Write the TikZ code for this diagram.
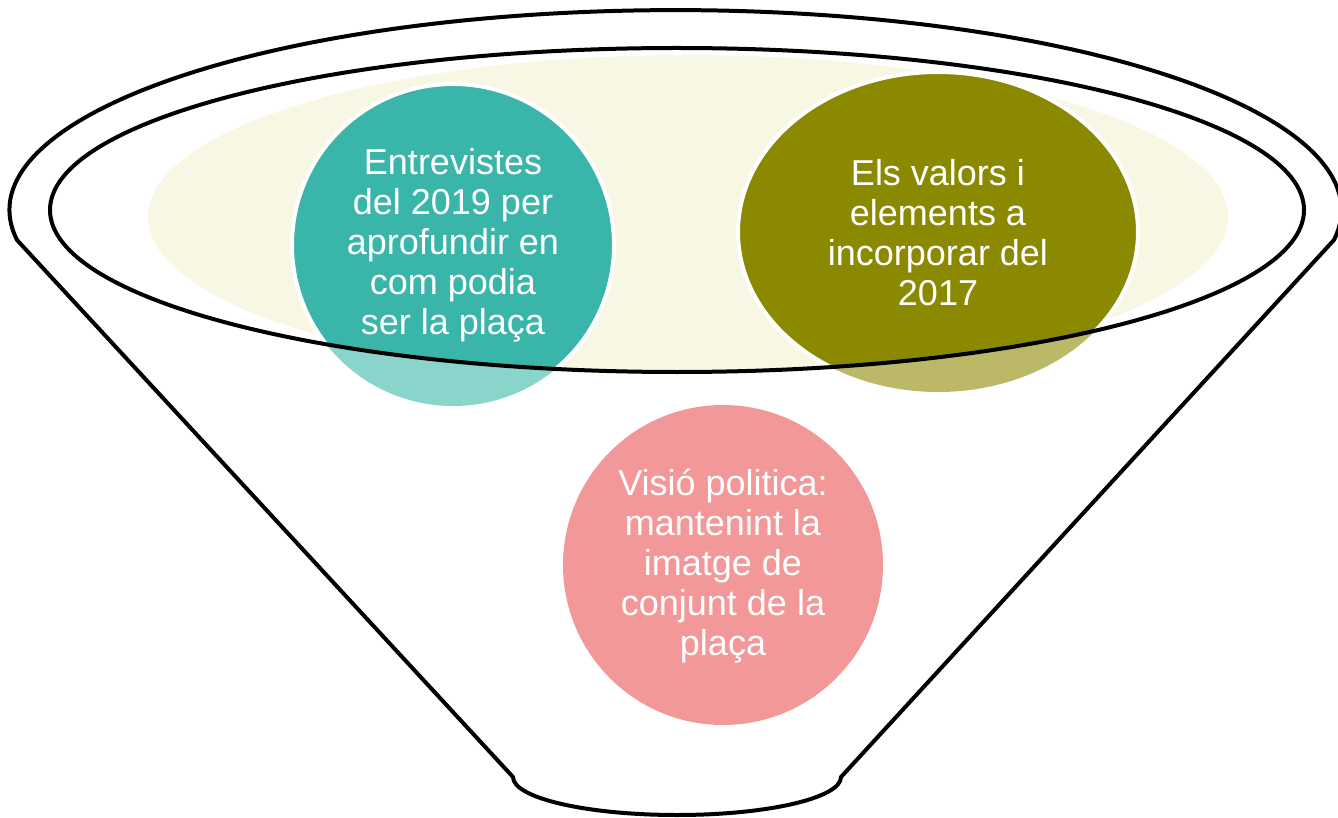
\documentclass[tikz,border=0pt]{standalone}
\usepackage{fontspec}
\setmainfont{Liberation Sans}
\usetikzlibrary{shapes.geometric}
\definecolor{tealc}{RGB}{58,181,169}
\definecolor{teall}{RGB}{137,212,203}
\definecolor{olivec}{RGB}{139,137,0}
\definecolor{olivel}{RGB}{187,185,104}
\definecolor{pinkc}{RGB}{242,152,152}
\definecolor{creamc}{RGB}{248,247,228}
\tikzset{
  bubble/.style={circle, inner sep=0pt, minimum size=322pt},
  oval/.style={ellipse, inner sep=0pt, minimum width=400pt, minimum height=320pt},
  rim/.style={draw=white, line width=4pt},
  label/.style={text=white, align=center, font=\fontsize{36}{40}\selectfont},
  outline/.style={draw=black, line width=4pt, line join=round}
}
\begin{document}
\begin{tikzpicture}[x=1pt,y=-1pt]
\useasboundingbox (0,0) rectangle (1338,818);
% cream area inside inner rim
\begin{scope}
  \clip (677,210) ellipse [x radius=627pt, y radius=162pt];
  \fill[creamc] (688,217) ellipse [x radius=540pt, y radius=162pt];
\end{scope}
% light (outside) parts of the circles
\node[bubble, fill=teall] (tealL) at (453,245) {};
\node[oval, fill=olivel] (oliveL) at (938,232) {};
\node[bubble, fill=pinkc, minimum size=320pt] (pink) at (723,565) {};
% full colour parts inside the inner rim
\begin{scope}
  \clip (677,210) ellipse [x radius=627pt, y radius=162pt];
  \node[bubble, fill=tealc, rim] (teal) at (453,245) {};
  \node[oval, fill=olivec, rim] (olive) at (938,232) {};
\end{scope}
% texts
\node[label] (tealtext) at (453,245) {Entrevistes\\del 2019 per\\aprofundir en\\com podia\\ser la plaça};
\node[label] (olivetext) at (938,233) {Els valors i\\elements a\\incorporar del\\2017};
\node[label] (pinktext) at (723,566) {Visió politica:\\mantenint la\\imatge de\\conjunt de la\\plaça};
% funnel outline
\draw[outline] (17,240) arc[start angle=188.6, end angle=-8.6, x radius=666pt, y radius=200pt]
  -- (841,777) arc[start angle=0, end angle=-180, x radius=164pt, y radius=38pt] -- cycle;
% inner rim
\draw[outline] (677,210) ellipse [x radius=627pt, y radius=162pt];
\end{tikzpicture}
\end{document}
